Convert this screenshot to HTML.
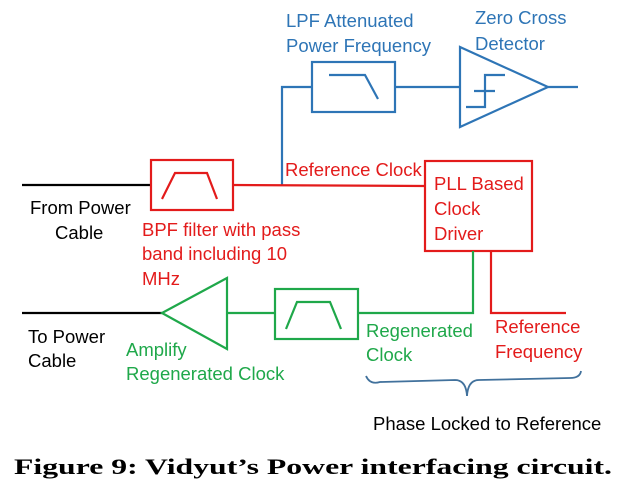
<!DOCTYPE html>
<html><head><meta charset="utf-8"><style>
html,body{margin:0;padding:0;background:#fff;}
svg{display:block;}
text{font-family:"Liberation Sans",sans-serif;font-size:18.5px;}
</style></head><body>
<svg width="626" height="500" viewBox="0 0 626 500">
<g fill="none" stroke-width="2.2">
<g stroke="#2e75b6">
<polyline points="282,185 282,87 312,87"/>
<rect x="312" y="62" width="83" height="50"/>
<polyline points="329,75 365,75 378,99"/>
<line x1="395" y1="87" x2="460" y2="87"/>
<polygon points="460,47 548,87 460,127"/>
<line x1="548" y1="87" x2="578" y2="87"/>
<polyline points="466,107 485,107 485,75 505,75"/>
<line x1="474" y1="91" x2="495" y2="91"/>
</g>
<line x1="22" y1="185" x2="151" y2="185" stroke="#000"/>
<line x1="22" y1="313" x2="162" y2="313" stroke="#000"/>
<g stroke="#e31b1b">
<rect x="151" y="160" width="82" height="50"/>
<polyline points="162,199 175,173 207,173 217,199"/>
<line x1="233" y1="185" x2="425" y2="186"/>
<rect x="425" y="161" width="107" height="90"/>
<polyline points="491,251 491,313 566,313"/>
</g>
<g stroke="#1fa84a">
<polyline points="473,251 473,313 358,313"/>
<rect x="275" y="289" width="83" height="50"/>
<polyline points="286,329 297,302 330,302 341,329"/>
<line x1="275" y1="313" x2="227" y2="313"/>
<polygon points="162,313 227,278 227,349"/>
</g>
<path d="M366,376 Q370,385 380,382 L455,380 Q466,380 467,396 Q468,380 479,380 L570,378 Q580,378 581,371" stroke="#41719c" stroke-width="1.8"/>
</g>
<g fill="#2e75b6">
<text x="286" y="27">LPF Attenuated</text>
<text x="286" y="52">Power Frequency</text>
<text x="475" y="24">Zero Cross</text>
<text x="475" y="50">Detector</text>
</g>
<g fill="#e31b1b">
<text x="285" y="176">Reference Clock</text>
<text x="434" y="190">PLL Based</text>
<text x="434" y="215">Clock</text>
<text x="434" y="240">Driver</text>
<text x="142" y="236">BPF filter with pass</text>
<text x="142" y="260">band including 10</text>
<text x="142" y="285">MHz</text>
<text x="495" y="333">Reference</text>
<text x="495" y="358">Frequency</text>
</g>
<g fill="#1fa84a">
<text x="366" y="337">Regenerated</text>
<text x="366" y="361">Clock</text>
<text x="126" y="356">Amplify</text>
<text x="126" y="380">Regenerated Clock</text>
</g>
<g fill="#000">
<text x="30" y="214">From Power</text>
<text x="55" y="239">Cable</text>
<text x="28" y="343">To Power</text>
<text x="28" y="367">Cable</text>
<text x="373" y="430">Phase Locked to Reference</text>
<text x="14" y="474" style="font-family:'Liberation Serif',serif;font-size:22px;font-weight:bold" textLength="598" lengthAdjust="spacingAndGlyphs">Figure 9: Vidyut’s Power interfacing circuit.</text>
</g>
</svg>
</body></html>
